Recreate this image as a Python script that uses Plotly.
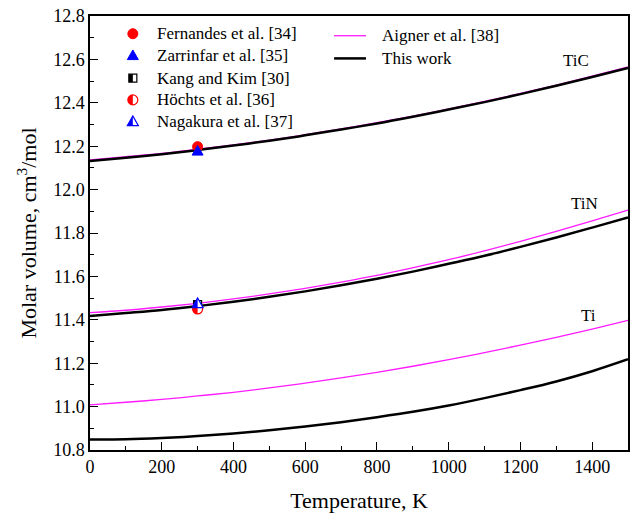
import plotly.graph_objects as go

# ---------------- data ----------------
T = [0, 100, 200, 300, 400, 500, 600, 700, 800, 900, 1000, 1100, 1200, 1300, 1400, 1500]

tic_this = [12.132, 12.147, 12.163, 12.182, 12.203, 12.225, 12.250, 12.277, 12.305, 12.336,
            12.369, 12.403, 12.440, 12.479, 12.519, 12.560]
tic_aigner = [12.137, 12.152, 12.167, 12.186, 12.206, 12.228, 12.253, 12.280, 12.308, 12.339,
              12.372, 12.406, 12.443, 12.482, 12.523, 12.566]
tin_this = [11.418, 11.431, 11.445, 11.463, 11.483, 11.506, 11.531, 11.559, 11.589, 11.622,
            11.658, 11.695, 11.736, 11.779, 11.825, 11.872]
tin_aigner = [11.433, 11.444, 11.459, 11.476, 11.496, 11.519, 11.545, 11.574, 11.605, 11.640,
              11.677, 11.718, 11.761, 11.807, 11.856, 11.906]
ti_this = [10.848, 10.849, 10.855, 10.864, 10.876, 10.891, 10.908, 10.928, 10.951, 10.976,
           11.005, 11.039, 11.076, 11.116, 11.163, 11.218]
ti_aigner = [11.008, 11.020, 11.033, 11.049, 11.066, 11.086, 11.108, 11.132, 11.158, 11.186,
             11.216, 11.249, 11.283, 11.319, 11.357, 11.397]

# experimental points (T, V)
fernandes = ([300], [12.198])
zarrinfar = ([300], [12.178])
kang = ([300], [11.470])
hochts = ([300], [11.450])
nagakura = ([300], [11.475])

curve_labels = ["TiC", "TiN", "Ti"]
curve_label_pos = [(1355, 12.54), (1380, 11.885), (1390, 11.365)]

x_ticks = [0, 200, 400, 600, 800, 1000, 1200, 1400]
y_ticks = [10.8, 11.0, 11.2, 11.4, 11.6, 11.8, 12.0, 12.2, 12.4, 12.6, 12.8]

legend_markers = ["Fernandes et al. [34]", "Zarrinfar et al. [35]", "Kang and Kim [30]",
                  "Höchts et al. [36]", "Nagakura et al. [37]"]
legend_lines = ["Aigner et al. [38]", "This work"]

# ---------------- style ----------------
FONT = "Liberation Serif"
MAG = "#ff1aff"
RED = "#ff0000"
BLUE = "#0000ff"
W, H = 636, 523
ML, MR, MT, MB = 90, 6, 10, 73
PW, PH = W - ML - MR, H - MT - MB

fig = go.Figure()

for ys in (tic_aigner, tin_aigner, ti_aigner):
    fig.add_trace(go.Scatter(x=T, y=ys, mode="lines", line=dict(color=MAG, width=1.3,
                                                                 shape="spline"),
                             showlegend=False, hoverinfo="skip"))
for ys in (tic_this, tin_this, ti_this):
    fig.add_trace(go.Scatter(x=T, y=ys, mode="lines", line=dict(color="black", width=2.5,
                                                                 shape="spline"),
                             showlegend=False, hoverinfo="skip"))

shapes = []
K = 0.5523


def circle_path(r):
    return (f"M 0,{r} C {-K*r},{r} {-r},{K*r} {-r},0 C {-r},{-K*r} {-K*r},{-r} 0,{-r} "
            f"C {K*r},{-r} {r},{-K*r} {r},0 C {r},{K*r} {K*r},{r} 0,{r} Z")


def half_circle_path(r):
    return (f"M 0,{r} C {-K*r},{r} {-r},{K*r} {-r},0 C {-r},{-K*r} {-K*r},{-r} 0,{-r} Z")


def tri_path(r):
    return f"M {-r},{-0.75*r} L {r},{-0.75*r} L 0,{r} Z"


def half_tri_path(r):
    return f"M {-r},{-0.75*r} L 0,{-0.75*r} L 0,{r} Z"


def sq_path(r):
    return f"M {-r},{-r} L {r},{-r} L {r},{r} L {-r},{r} Z"


def half_sq_path(r):
    return f"M {-r},{-r} L 0,{-r} L 0,{r} L {-r},{r} Z"


def glyph(kind, xa, ya, xref, yref):
    out = []
    common = dict(type="path", xref=xref, yref=yref, xsizemode="pixel", ysizemode="pixel",
                  xanchor=xa, yanchor=ya, layer="above")
    if kind == "fernandes":
        out.append(dict(path=circle_path(5), fillcolor=RED, line=dict(color=RED, width=1), **common))
    elif kind == "zarrinfar":
        out.append(dict(path=tri_path(5.5), fillcolor=BLUE, line=dict(color=BLUE, width=1), **common))
    elif kind == "kang":
        out.append(dict(path=sq_path(4), fillcolor="white", line=dict(color="black", width=1.2), **common))
        out.append(dict(path=half_sq_path(4), fillcolor="black", line=dict(width=0), **common))
    elif kind == "hochts":
        out.append(dict(path=circle_path(5), fillcolor="white", line=dict(color=RED, width=1.2), **common))
        out.append(dict(path=half_circle_path(5), fillcolor=RED, line=dict(width=0), **common))
    elif kind == "nagakura":
        out.append(dict(path=tri_path(5.5), fillcolor="white", line=dict(color=BLUE, width=1.2), **common))
        out.append(dict(path=half_tri_path(5.5), fillcolor=BLUE, line=dict(width=0), **common))
    return out


# experimental points on the chart
for kind, (xs, ys) in [("kang", kang), ("hochts", hochts), ("nagakura", nagakura),
                       ("fernandes", fernandes), ("zarrinfar", zarrinfar)]:
    for xv, yv in zip(xs, ys):
        shapes += glyph(kind, xv, yv, "x", "y")


def px2paper(px, py):
    return (px - ML) / PW, (MT + PH - py) / PH


annotations = []
# legend column 1 (markers)
kinds = ["fernandes", "zarrinfar", "kang", "hochts", "nagakura"]
rows = [28, 50, 73, 95, 117]
for kind, lab, py in zip(kinds, legend_markers, rows):
    gx, gy = px2paper(133, py)
    shapes += glyph(kind, gx, gy, "paper", "paper")
    tx, ty = px2paper(155, py)
    annotations.append(dict(x=tx, y=ty, xref="paper", yref="paper", text=lab, showarrow=False,
                            xanchor="left", yanchor="middle", font=dict(family=FONT, size=17, color="black")))

# legend column 2 (lines)
for lab, py, col, wd in zip(legend_lines, [30, 53], [MAG, "black"], [1.3, 2.5]):
    x0, y0 = px2paper(335, py)
    x1, _ = px2paper(367, py)
    shapes.append(dict(type="line", xref="paper", yref="paper", x0=x0, x1=x1, y0=y0, y1=y0,
                       line=dict(color=col, width=wd)))
    tx, ty = px2paper(381, py)
    annotations.append(dict(x=tx, y=ty, xref="paper", yref="paper", text=lab, showarrow=False,
                            xanchor="left", yanchor="middle", font=dict(family=FONT, size=17, color="black")))

for lab, (xv, yv) in zip(curve_labels, curve_label_pos):
    annotations.append(dict(x=xv, y=yv, xref="x", yref="y", text=lab, showarrow=False,
                            xanchor="center", yanchor="bottom", font=dict(family=FONT, size=17, color="black")))

axis_common = dict(showline=True, linecolor="black", linewidth=1.5, mirror=True,
                   ticks="inside", ticklen=8, tickwidth=1.3, tickcolor="black",
                   showgrid=False, zeroline=False,
                   tickfont=dict(family=FONT, size=18, color="black"))

fig.update_layout(
    width=W, height=H,
    margin=dict(l=ML, r=MR, t=MT, b=MB),
    paper_bgcolor="white", plot_bgcolor="white",
    showlegend=False,
    font=dict(family=FONT),
    shapes=shapes, annotations=annotations,
    xaxis=dict(range=[0, 1500], tickvals=x_ticks, ticktext=[str(v) for v in x_ticks],
               minor=dict(ticks="inside", ticklen=4, dtick=100, tickcolor="black", tickwidth=1.2,
                          showgrid=False),
               title=dict(text="Temperature, K", font=dict(family=FONT, size=22, color="black"),
                          standoff=16),
               **axis_common),
    yaxis=dict(range=[10.8, 12.8], tickvals=y_ticks, ticktext=[f"{v:.1f}" for v in y_ticks],
               minor=dict(ticks="inside", ticklen=4, dtick=0.1, tickcolor="black", tickwidth=1.2,
                          showgrid=False),
               title=dict(text="Molar volume, cm<sup>3</sup>/mol",
                          font=dict(family=FONT, size=22, color="black"), standoff=10),
               **axis_common),
)

fig.write_html("out.html")
